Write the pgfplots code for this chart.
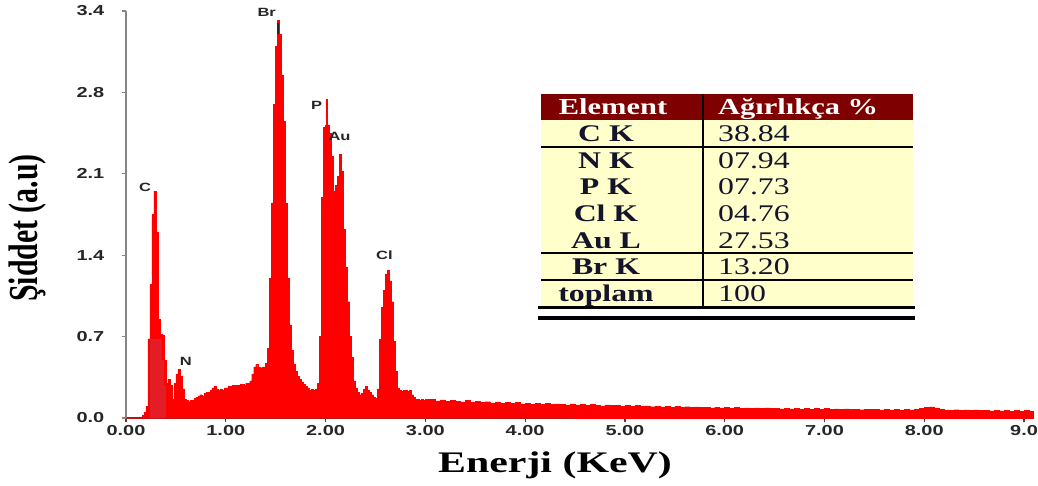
\documentclass[border=0pt]{standalone}
\usepackage{pgfplots}
\pgfplotsset{compat=1.18}
\usepackage{fontspec}
\usepackage{graphicx}
\setmainfont{Liberation Serif}
\newfontfamily\tickfamily[FakeStretch=1.38]{Liberation Sans}
\newfontfamily\tabfamily[FakeStretch=1.33]{Liberation Serif}
\newfontfamily\labfamily[FakeStretch=1.4]{Liberation Serif}
\definecolor{spec}{HTML}{FF0000}
\definecolor{specdark}{HTML}{E41C26}
\definecolor{axisgray}{HTML}{858585}
\definecolor{axisdark}{HTML}{404040}
\definecolor{ticktext}{HTML}{262626}
\definecolor{headred}{HTML}{7F0000}
\definecolor{cellyellow}{HTML}{FFFFCC}
\definecolor{tabtext}{HTML}{14142A}

% EDS spectrum: counts per energy channel (keV, a.u.)
\pgfplotstableread{
x y
0.00 0
0.14 0
0.16 0.02
0.18 0.05
0.20 0.10
0.22 0.68
0.24 1.15
0.26 1.75
0.28 1.95
0.30 1.60
0.32 0.85
0.34 0.72
0.36 0.71
0.38 0.50
0.40 0.30
0.42 0.33
0.44 0.28
0.46 0.16
0.48 0.30
0.50 0.38
0.52 0.42
0.54 0.36
0.56 0.25
0.58 0.16
0.60 0.15
0.62 0.14
0.64 0.15
0.66 0.15
0.68 0.17
0.70 0.18
0.72 0.19
0.74 0.20
0.76 0.19
0.78 0.21
0.80 0.22
0.82 0.22
0.84 0.24
0.86 0.26
0.88 0.27
0.90 0.25
0.92 0.24
0.94 0.25
0.96 0.24
0.98 0.26
1.00 0.26
1.02 0.27
1.04 0.27
1.06 0.28
1.08 0.28
1.10 0.28
1.12 0.28
1.14 0.29
1.16 0.29
1.18 0.28
1.20 0.30
1.22 0.30
1.24 0.32
1.26 0.38
1.28 0.44
1.30 0.46
1.32 0.44
1.34 0.43
1.36 0.44
1.38 0.44
1.40 0.47
1.42 0.60
1.44 1.20
1.46 1.85
1.48 2.70
1.50 3.20
1.52 3.42
1.54 3.30
1.56 2.95
1.58 2.55
1.60 1.85
1.62 1.20
1.64 0.80
1.66 0.58
1.68 0.46
1.70 0.40
1.72 0.36
1.74 0.33
1.76 0.31
1.78 0.29
1.80 0.27
1.82 0.26
1.84 0.24
1.86 0.25
1.88 0.24
1.90 0.25
1.92 0.30
1.94 0.70
1.96 1.90
1.98 2.50
2.00 2.52
2.01 2.74
2.02 2.52
2.04 2.45
2.06 2.25
2.08 1.95
2.10 2.00
2.12 2.08
2.14 2.27
2.16 2.12
2.18 1.62
2.20 1.30
2.22 1.00
2.24 0.70
2.26 0.52
2.28 0.32
2.30 0.26
2.32 0.22
2.34 0.20
2.36 0.21
2.38 0.25
2.40 0.27
2.42 0.24
2.44 0.22
2.46 0.20
2.48 0.18
2.50 0.17
2.52 0.25
2.54 0.68
2.56 0.95
2.58 1.10
2.60 1.24
2.62 1.27
2.64 1.18
2.66 1.00
2.68 0.66
2.70 0.40
2.72 0.26
2.74 0.24
2.76 0.23
2.78 0.24
2.80 0.24
2.82 0.23
2.84 0.24
2.86 0.20
2.88 0.18
2.90 0.16
2.92 0.16
2.94 0.15
2.96 0.16
2.98 0.15
3.00 0.16
3.05 0.160
3.10 0.148
3.15 0.155
3.20 0.142
3.25 0.150
3.30 0.146
3.35 0.138
3.40 0.150
3.45 0.136
3.50 0.142
3.55 0.135
3.60 0.140
3.65 0.130
3.70 0.138
3.75 0.128
3.80 0.133
3.85 0.126
3.90 0.134
3.95 0.122
4.00 0.128
4.05 0.120
4.10 0.127
4.15 0.118
4.20 0.125
4.25 0.116
4.30 0.122
4.35 0.117
4.40 0.112
4.45 0.121
4.50 0.113
4.55 0.118
4.60 0.108
4.65 0.115
4.70 0.110
4.75 0.104
4.80 0.112
4.85 0.106
4.90 0.110
4.95 0.101
5.00 0.107
5.05 0.100
5.10 0.106
5.15 0.098
5.20 0.104
5.25 0.097
5.30 0.103
5.35 0.096
5.40 0.100
5.45 0.094
5.50 0.099
5.55 0.092
5.60 0.097
5.65 0.090
5.70 0.096
5.75 0.089
5.80 0.094
5.85 0.087
5.90 0.092
5.95 0.086
6.00 0.091
6.05 0.085
6.10 0.090
6.15 0.083
6.20 0.088
6.25 0.082
6.30 0.087
6.35 0.081
6.40 0.086
6.45 0.080
6.50 0.085
6.55 0.079
6.60 0.084
6.65 0.078
6.70 0.083
6.75 0.077
6.80 0.082
6.85 0.076
6.90 0.081
6.95 0.075
7.00 0.080
7.05 0.074
7.10 0.079
7.15 0.074
7.20 0.078
7.25 0.072
7.30 0.077
7.35 0.071
7.40 0.076
7.45 0.072
7.50 0.075
7.55 0.070
7.60 0.074
7.65 0.069
7.70 0.074
7.75 0.068
7.80 0.073
7.85 0.070
7.90 0.075
7.95 0.082
8.00 0.092
8.05 0.095
8.10 0.086
8.15 0.076
8.20 0.070
8.25 0.066
8.30 0.071
8.35 0.065
8.40 0.070
8.45 0.064
8.50 0.069
8.55 0.063
8.60 0.068
8.65 0.062
8.70 0.067
8.75 0.061
8.80 0.066
8.85 0.060
8.90 0.065
8.95 0.059
9.00 0.064
9.05 0.058
9.09 0.058
}\spectrum

\begin{document}
\begin{tikzpicture}
\useasboundingbox (0,0) rectangle (1038bp,486bp);
\begin{axis}[
  at={(126bp,68bp)}, anchor=south west,
  scale only axis, width=907bp, height=407bp,
  xmin=0, xmax=9.09, ymin=0, ymax=3.5,
  axis x line*=bottom, axis y line*=left,
  x axis line style={draw=axisdark, line width=2.4bp, -},
  y axis line style={draw=axisgray, line width=1.8bp, -},
  xtick={0,1,2,3,4,5,6,7,8,9},
  xticklabels={0.00,1.00,2.00,3.00,4.00,5.00,6.00,7.00,8.00,9.0},
  ytick={0,0.7,1.4,2.1,2.8,3.5},
  yticklabels={0.0,0.7,1.4,2.1,2.8,3.4},
  tick align=outside,
  x tick style={draw=axisdark, line width=1.2bp},
  y tick style={draw=axisgray, line width=1.2bp},
  xtick/.append style={major tick length=5bp},
  ytick/.append style={major tick length=12bp},
  /pgf/number format/assume math mode=true,
  tick label style={font=\tickfamily\bfseries\fontsize{14.5}{15}\selectfont, text=ticktext},
  yticklabel style={xshift=-14bp},
  clip=false,
]
\addplot[draw=spec, line width=0.4bp, fill=spec, const plot mark left] table[x=x,y=y] {\spectrum} \closedcycle;
% darker band at the base of the C line
\addplot[draw=none, fill=specdark, const plot mark left] coordinates {(0.24,0.68) (0.30,0.68) (0.32,0.68) (0.34,0.68) (0.36,0.5) (0.38,0.28) (0.40,0.28)} \closedcycle;

\begin{scope}[every node/.style={font=\tickfamily\bfseries\fontsize{12}{12}\selectfont, text=ticktext}]
\node at (axis cs:0.19,1.98) {C};
\node at (axis cs:0.60,0.49) {N};
\node at (axis cs:1.41,3.49) {Br};
\node at (axis cs:1.91,2.69) {P};
\node at (axis cs:2.14,2.42) {Au};
\node at (axis cs:2.59,1.40) {Cl};
\end{scope}
\draw[ticktext, line width=2bp] (axis cs:1.52,3.30) -- (axis cs:1.52,3.40);
\end{axis}

% axis titles
\node[rotate=90, text=black] at (28bp,258bp)
  {\scalebox{1}[1.38]{\bfseries\fontsize{30}{30}\selectfont Şiddet (a.u)}};
\node[anchor=base, text=black] at (555bp,14bp)
  {\labfamily\bfseries\fontsize{30}{30}\selectfont Enerji (KeV)};

% composition table
\fill[headred] (541bp,366bp) rectangle (913bp,392bp);
\fill[cellyellow] (541bp,179bp) rectangle (913bp,366bp);
\draw[black, line width=1.3bp] (541bp,339bp) -- (913bp,339bp);
\draw[black, line width=1.3bp] (541bp,233bp) -- (913bp,233bp);
\draw[black, line width=1.3bp] (541bp,206bp) -- (913bp,206bp);
\draw[black, line width=1.6bp] (703bp,392bp) -- (703bp,179bp);
\draw[black, line width=3bp] (538bp,178bp) -- (915bp,178bp);
\draw[black, line width=4bp] (538bp,168bp) -- (915bp,168bp);

\begin{scope}[every node/.style={anchor=base, inner sep=0pt}]
\node[text=white] at (613bp,371bp) {\tabfamily\bfseries\fontsize{23}{23}\selectfont Element};
\node[text=white, anchor=base west] at (718bp,371bp) {\tabfamily\bfseries\fontsize{23}{23}\selectfont Ağırlıkça \%};
\foreach \lab/\val/\yc in {C K/38.84/352.5, N K/07.94/326, P K/07.73/299.5, Cl K/04.76/272.5, Au L/27.53/246, Br K/13.20/219.5, toplam/100/192.5}{
  \node[text=tabtext] at (606bp,\yc bp-8.5bp) {\tabfamily\bfseries\fontsize{24}{24}\selectfont \lab};
  \node[text=tabtext, anchor=base west] at (718bp,\yc bp-8.5bp) {\tabfamily\fontsize{24}{24}\selectfont \val};
}
\end{scope}
\end{tikzpicture}
\end{document}
